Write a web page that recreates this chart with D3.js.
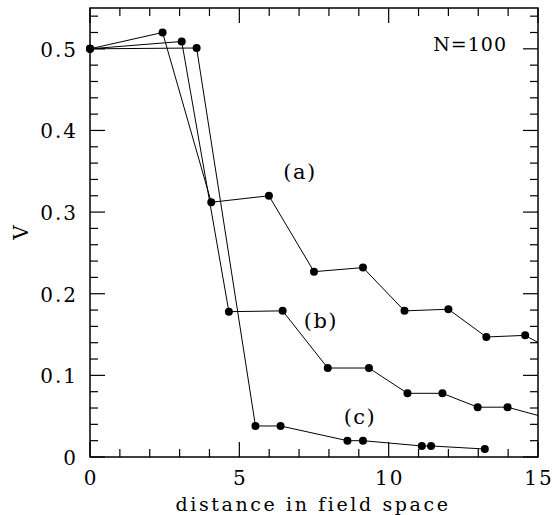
<!DOCTYPE html>
<html>
<head>
<meta charset="utf-8">
<script src="https://cdn.jsdelivr.net/npm/d3@7"></script>
<style>
  body { margin: 0; background: #fff; }
  text { font-family: "DejaVu Serif", serif; fill: #000; }
</style>
</head>
<body>
<div id="plot"></div>
<script>
// values: [distance, V]
var seriesA = [[0,0.5],[2.43,0.52],[4.06,0.312],[5.99,0.32],[7.50,0.227],[9.14,0.232],
               [10.53,0.179],[12.0,0.181],[13.27,0.147],[14.57,0.149],[16.0,0.12]];
var seriesB = [[0,0.5],[3.07,0.509],[4.65,0.178],[6.45,0.179],[7.96,0.109],[9.34,0.109],
               [10.63,0.078],[11.8,0.078],[12.98,0.061],[13.98,0.061],[16.2,0.039]];
var seriesC = [[0,0.5],[3.57,0.501],[5.54,0.038],[6.38,0.038],[8.62,0.020],[9.14,0.020],
               [11.11,0.0135],[11.42,0.0135],[13.22,0.0098]];
var seriesNames = ["(a)", "(b)", "(c)"];
// label anchor points (baseline) in data units
var labelPos = [[7.03,0.341],[7.73,0.158],[9.04,0.041]];
var xTicks = [0, 5, 10, 15];
var yTicks = [0, 0.1, 0.2, 0.3, 0.4, 0.5];

var margin = {top: 8, right: 21, bottom: 58, left: 90},
    width = 559 - margin.left - margin.right,
    height = 515 - margin.top - margin.bottom;

const svg = d3.select("#plot")
  .append("svg")
    .attr("width", width + margin.left + margin.right)
    .attr("height", height + margin.top + margin.bottom)
  .append("g")
    .attr("transform", `translate(${margin.left},${margin.top})`);

var xscale = d3.scaleLinear().domain([0, 15]).range([0, width]);
var yscale = d3.scaleLinear().domain([0, 0.55]).range([height, 0]);

// frame
svg.append("rect")
  .attr("width", width).attr("height", height)
  .attr("fill", "none").attr("stroke", "#000").attr("stroke-width", 1.5);

// inward ticks on all four sides (major + minor)
var xMinor = d3.range(0, 15.01, 1), yMinor = d3.range(0, 0.551, 0.02);
function isMajorX(v) { return Math.abs(v % 5) < 1e-6; }
function isMajorY(v) { return Math.abs(Math.round(v * 10) - v * 10) < 1e-6; }
var tickG = svg.append("g").attr("stroke", "#000").attr("stroke-width", 1.2);
xMinor.forEach(function(v) {
  var len = isMajorX(v) ? 15 : 8;
  tickG.append("line").attr("x1", xscale(v)).attr("x2", xscale(v)).attr("y1", height).attr("y2", height - len);
  tickG.append("line").attr("x1", xscale(v)).attr("x2", xscale(v)).attr("y1", 0).attr("y2", len);
});
yMinor.forEach(function(v) {
  var len = isMajorY(v) ? 15 : 8;
  tickG.append("line").attr("y1", yscale(v)).attr("y2", yscale(v)).attr("x1", 0).attr("x2", len);
  tickG.append("line").attr("y1", yscale(v)).attr("y2", yscale(v)).attr("x1", width).attr("x2", width - len);
});

// tick labels
svg.selectAll(".xlab").data(xTicks).join("text")
  .attr("class", "xlab")
  .attr("x", function(d) { return xscale(d) + 1; })
  .attr("y", height + 28)
  .attr("text-anchor", "middle")
  .style("font-size", "20px").style("letter-spacing", "2px")
  .text(function(d) { return d; });

svg.selectAll(".ylab").data(yTicks).join("text")
  .attr("class", "ylab")
  .attr("x", -12)
  .attr("y", function(d) { return yscale(d) + 8; })
  .attr("text-anchor", "end")
  .style("font-size", "20px").style("letter-spacing", "2px")
  .text(function(d) { return d === 0 ? "0" : d.toFixed(1); });

// axis titles
svg.append("text")
  .attr("x", width / 2 - 1)
  .attr("y", height + 54)
  .attr("text-anchor", "middle")
  .style("font-size", "19px").style("letter-spacing", "2.6px")
  .text("distance in field space");

svg.append("text")
  .attr("transform", `translate(${-62},${yscale(0.275)}) rotate(-90)`)
  .attr("text-anchor", "middle")
  .style("font-size", "20px")
  .text("V");

svg.append("text")
  .attr("x", width - 31)
  .attr("y", yscale(0.5) + 2)
  .attr("text-anchor", "end")
  .style("font-size", "19px").style("letter-spacing", "1px")
  .text("N=100");

// lines, clipped to the frame
svg.append("clipPath").attr("id", "clip")
  .append("rect").attr("width", width).attr("height", height);

var valueline = d3.line()
  .x(function(d) { return xscale(d[0]); })
  .y(function(d) { return yscale(d[1]); });

var all = [seriesA, seriesB, seriesC];
svg.selectAll(".path").data(all).join("path")
  .attr("class", "path")
  .attr("clip-path", "url(#clip)")
  .attr("d", valueline)
  .attr("fill", "none").attr("stroke", "#000").attr("stroke-width", 1);

all.forEach(function(s) {
  svg.append("g").selectAll("circle")
    .data(s.filter(function(d) { return d[0] <= 15; }))
    .join("circle")
    .attr("cx", function(d) { return xscale(d[0]); })
    .attr("cy", function(d) { return yscale(d[1]); })
    .attr("r", 4)
    .attr("fill", "#000");
});

// series labels
svg.selectAll(".slab").data(seriesNames).join("text")
  .attr("class", "slab")
  .attr("x", function(d, i) { return xscale(labelPos[i][0]); })
  .attr("y", function(d, i) { return yscale(labelPos[i][1]); })
  .attr("text-anchor", "middle")
  .style("font-size", "21px").style("letter-spacing", "1.5px")
  .text(function(d) { return d; });
</script>
</body>
</html>
